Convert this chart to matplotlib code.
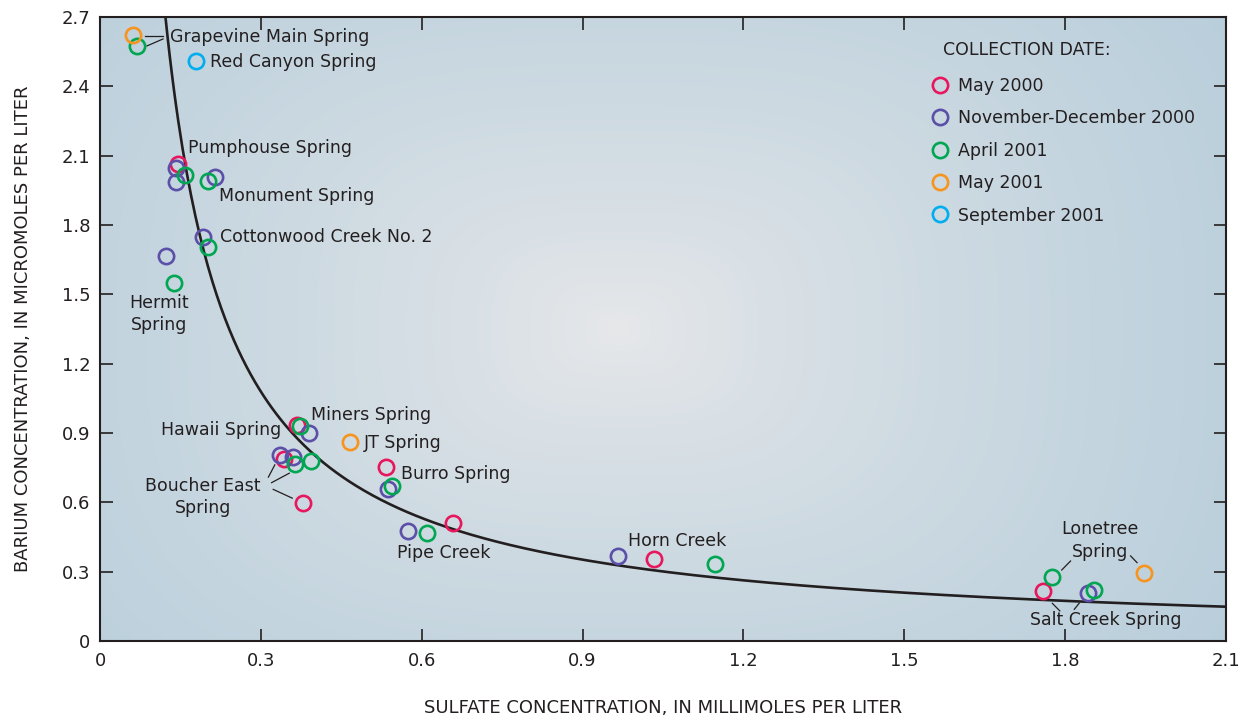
import numpy as np
import matplotlib
matplotlib.use('Agg')
import matplotlib.pyplot as plt
from matplotlib.lines import Line2D

plt.rcParams['font.family'] = ['DejaVu Sans']

dates = ['May 2000', 'November-December 2000', 'April 2001', 'May 2001', 'September 2001']
colors = ['#E8175D', '#5B4FA8', '#00A651', '#F7941D', '#00AEEF']

# sulfate (mmol/L) and barium (umol/L) for each collection trip
so4_may00 = [0.145, 0.367, 0.344, 0.378, 0.533, 0.658, 1.034, 1.759]
ba_may00 = [2.063, 0.933, 0.786, 0.596, 0.754, 0.511, 0.354, 0.216]
so4_nov00 = [0.142, 0.142, 0.2145, 0.1915, 0.123, 0.390, 0.336, 0.359, 0.538, 0.575, 0.966, 1.842]
ba_nov00 = [2.048, 1.988, 2.009, 1.747, 1.666, 0.899, 0.804, 0.795, 0.658, 0.476, 0.368, 0.209]
so4_apr01 = [0.069, 0.158, 0.202, 0.201, 0.138, 0.373, 0.363, 0.3935, 0.5446, 0.609, 1.147, 1.7755, 1.854]
ba_apr01 = [2.575, 2.016, 1.992, 1.706, 1.548, 0.930, 0.766, 0.780, 0.671, 0.466, 0.333, 0.276, 0.219]
so4_may01 = [0.0615, 0.466, 1.947]
ba_may01 = [2.622, 0.860, 0.293]
so4_sep01 = [0.179]
ba_sep01 = [2.510]

so4 = [so4_may00, so4_nov00, so4_apr01, so4_may01, so4_sep01]
ba = [ba_may00, ba_nov00, ba_apr01, ba_may01, ba_sep01]

# barite saturation curve
KSP = 0.316
xticks = [0, 0.3, 0.6, 0.9, 1.2, 1.5, 1.8, 2.1]
yticks = [0, 0.3, 0.6, 0.9, 1.2, 1.5, 1.8, 2.1, 2.4, 2.7]
xticklabels = ['0', '0.3', '0.6', '0.9', '1.2', '1.5', '1.8', '2.1']
yticklabels = ['0', '0.3', '0.6', '0.9', '1.2', '1.5', '1.8', '2.1', '2.4', '2.7']

INK = '#231F20'

fig = plt.figure(figsize=(12.47, 7.21), dpi=100)
ax = fig.add_axes([0.0802, 0.111, 0.903, 0.8654])

# soft blue-grey background, lighter in the middle
gx, gy = np.meshgrid(np.linspace(0, 1, 500), np.linspace(0, 1, 300))
d = (np.abs((gx - 0.46) / 0.62) ** 3 + np.abs((gy - 0.5) / 0.78) ** 3) ** (1 / 3)
d = np.clip(d, 0, 1) ** 0.8
edge = np.array([184, 206, 219]) / 255
center = np.array([231, 232, 234]) / 255
img = center + (edge - center) * d[..., None]
ax.imshow(img, extent=[0, 1, 0, 1], transform=ax.transAxes, origin='lower',
          aspect='auto', zorder=0, interpolation='bilinear')

xc = np.linspace(0.11, 2.1, 500)
ax.plot(xc, KSP / xc ** 1.02, color=INK, lw=1.9, zorder=2)

for xs, ys, c in zip(so4, ba, colors):
    ax.plot(xs, ys, ls='none', marker='o', ms=11, mfc='none', mec=c, mew=1.9, zorder=3)

lab = dict(fontsize=12.5, color=INK, va='center', zorder=4)
ax.text(0.1305, 2.614, 'Grapevine Main Spring', **lab)
ax.text(0.205, 2.505, 'Red Canyon Spring', **lab)
ax.text(0.164, 2.133, 'Pumphouse Spring', **lab)
ax.text(0.222, 1.926, 'Monument Spring', **lab)
ax.text(0.224, 1.748, 'Cottonwood Creek No. 2', **lab)
ax.text(0.110, 1.415, 'Hermit\nSpring', ha='center', linespacing=1.35, **lab)
ax.text(0.3935, 0.978, 'Miners Spring', **lab)
ax.text(0.3376, 0.913, 'Hawaii Spring', ha='right', **lab)
ax.text(0.492, 0.857, 'JT Spring', **lab)
ax.text(0.561, 0.7226, 'Burro Spring', **lab)
ax.text(0.192, 0.623, 'Boucher East\nSpring', ha='center', linespacing=1.35, **lab)
ax.text(0.554, 0.381, 'Pipe Creek', **lab)
ax.text(0.985, 0.433, 'Horn Creek', **lab)
ax.text(1.865, 0.433, 'Lonetree\nSpring', ha='center', linespacing=1.35, **lab)
ax.text(1.734, 0.091, 'Salt Creek Spring', **lab)

leaders = [
    ((0.084, 0.1175), (2.619, 2.619)),
    ((0.0877, 0.1175), (2.575, 2.605)),
    ((1.7935, 1.810), (0.307, 0.346)),
    ((1.922, 1.934), (0.368, 0.339)),
    ((1.776, 1.790), (0.163, 0.130)),
    ((1.826, 1.817), (0.163, 0.137)),
    ((0.314, 0.326), (0.709, 0.762)),
    ((0.320, 0.353), (0.685, 0.726)),
    ((0.323, 0.3585), (0.656, 0.618)),
]
for lx, ly in leaders:
    ax.plot(lx, ly, color=INK, lw=0.9, zorder=4)

# legend: heading as its own text, entries below it
ax.text(0.7487, 0.947, 'COLLECTION DATE:', transform=ax.transAxes, fontsize=12.5,
        color=INK, va='center')
handles = [Line2D([], [], ls='none', marker='o', ms=11, mfc='none', mec=c, mew=1.9)
           for c in colors]
leg = ax.legend(handles, dates, loc='upper left', bbox_to_anchor=(0.7383, 0.904),
                frameon=False, fontsize=12.5, labelspacing=0.83, handletextpad=0.53,
                handlelength=1.0, borderaxespad=0, borderpad=0)
for t in leg.get_texts():
    t.set_color(INK)

ax.set_xlim(0, 2.1)
ax.set_ylim(0, 2.7)
ax.set_xticks(xticks)
ax.set_xticklabels(xticklabels)
ax.set_yticks(yticks)
ax.set_yticklabels(yticklabels)
ax.tick_params(direction='in', length=9, width=1.2, color=INK,
               top=True, right=True, labelsize=13, labelcolor=INK)
ax.tick_params(axis='x', pad=8)
ax.tick_params(axis='y', pad=7)
for s in ax.spines.values():
    s.set_linewidth(1.5)
    s.set_color(INK)
    s.set_zorder(5)

ax.set_xlabel('SULFATE CONCENTRATION, IN MILLIMOLES PER LITER', fontsize=13,
              color=INK, labelpad=21)
ax.set_ylabel('BARIUM CONCENTRATION, IN MICROMOLES PER LITER', fontsize=13,
              color=INK, labelpad=21)

fig.savefig('out.png', dpi=100)
